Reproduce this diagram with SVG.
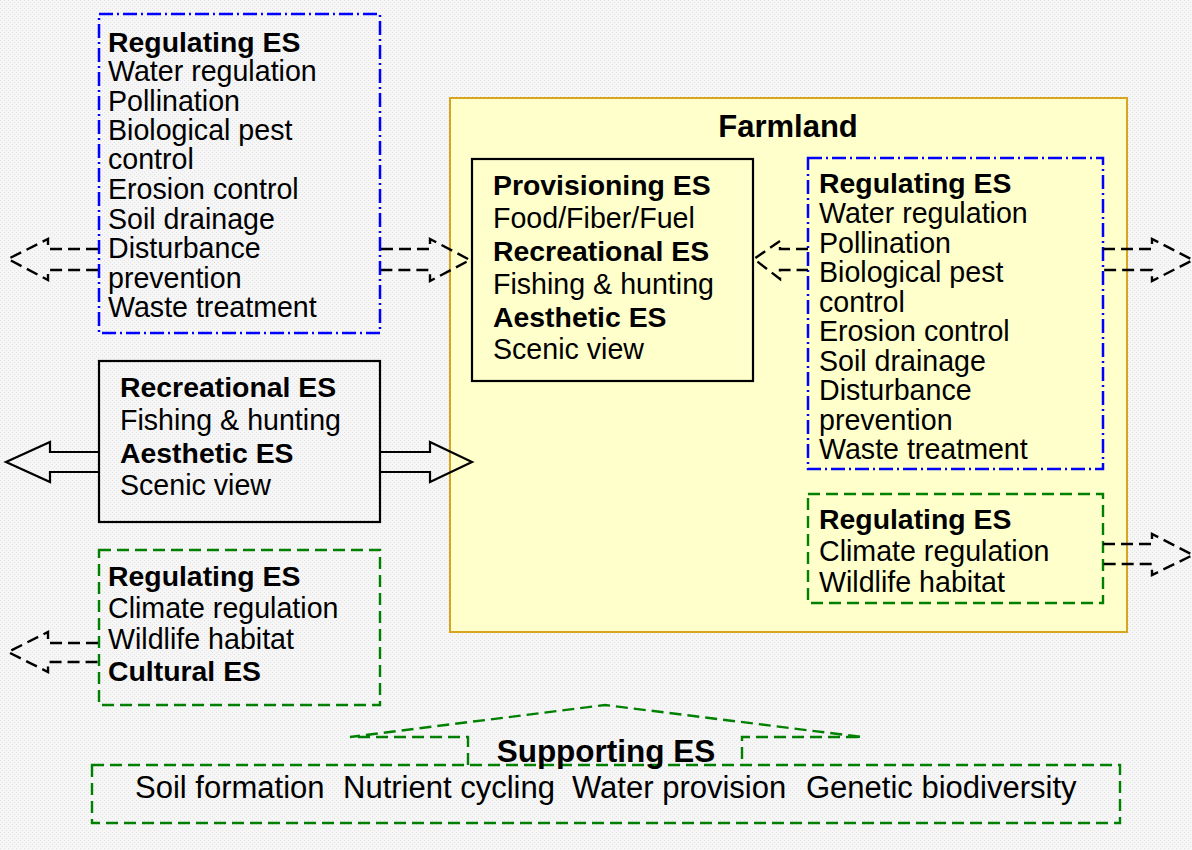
<svg xmlns="http://www.w3.org/2000/svg" width="1192" height="850" viewBox="0 0 1192 850">
<defs>
<pattern id="bgdots" width="4" height="4" patternUnits="userSpaceOnUse">
<rect width="4" height="4" fill="#f6f6f6"/>
<rect x="0" y="0" width="1" height="1" fill="#e2e2e2"/>
<rect x="2" y="2" width="1" height="1" fill="#e2e2e2"/>
</pattern>
</defs>
<style>
text{font-family:"Liberation Sans",Arial,Helvetica,sans-serif;font-size:28.6px;fill:#000}
.b{font-weight:bold;font-size:28.4px}
.big{font-size:31px}
.sup{font-size:31.5px}
.blue{fill:none;stroke:#0000ff;stroke-width:2.5;stroke-dasharray:14 4 2 4}
.green{fill:none;stroke:#008000;stroke-width:2.4;stroke-dasharray:12 6}
.solid{fill:none;stroke:#000;stroke-width:2.2}
.darr{fill:none;stroke:#000;stroke-width:2.4;stroke-dasharray:12 6}
.sarr{fill:none;stroke:#000;stroke-width:2.2}
</style>
<rect width="1192" height="850" fill="url(#bgdots)"/>

<g id="farmland">
<rect x="450" y="98" width="677" height="534" fill="#ffffcc" stroke="#d9a520" stroke-width="2"/>
<text class="b big" x="788" y="137" text-anchor="middle">Farmland</text>
</g>

<g id="provisioning">
<rect class="solid" x="472" y="159" width="281" height="222"/>
<text class="b" x="493" y="195">Provisioning ES</text>
<text x="493" y="228">Food/Fiber/Fuel</text>
<text class="b" x="493" y="261">Recreational ES</text>
<text x="493" y="294">Fishing &amp; hunting</text>
<text class="b" x="493" y="327">Aesthetic ES</text>
<text x="493" y="359">Scenic view</text>
</g>

<g id="regulating-farm-blue">
<rect class="blue" x="808" y="158" width="295" height="311"/>
<text class="b" x="819" y="193">Regulating ES</text>
<text x="819" y="223">Water regulation</text>
<text x="819" y="253">Pollination</text>
<text x="819" y="282">Biological pest</text>
<text x="819" y="312">control</text>
<text x="819" y="341">Erosion control</text>
<text x="819" y="371">Soil drainage</text>
<text x="819" y="400">Disturbance</text>
<text x="819" y="430">prevention</text>
<text x="819" y="459">Waste treatment</text>
</g>

<g id="regulating-farm-green">
<rect class="green" x="808" y="494" width="295" height="109"/>
<text class="b" x="819" y="529">Regulating ES</text>
<text x="819" y="561">Climate regulation</text>
<text x="819" y="592">Wildlife habitat</text>
</g>

<g id="regulating-left-blue">
<rect class="blue" x="99" y="14" width="281" height="319"/>
<text class="b" x="108" y="52">Regulating ES</text>
<text x="108" y="81">Water regulation</text>
<text x="108" y="111">Pollination</text>
<text x="108" y="140">Biological pest</text>
<text x="108" y="169">control</text>
<text x="108" y="199">Erosion control</text>
<text x="108" y="229">Soil drainage</text>
<text x="108" y="258">Disturbance</text>
<text x="108" y="288">prevention</text>
<text x="108" y="317">Waste treatment</text>
</g>

<g id="recreational-left">
<rect class="solid" x="99" y="361" width="281" height="161"/>
<text class="b" x="120" y="397">Recreational ES</text>
<text x="120" y="430">Fishing &amp; hunting</text>
<text class="b" x="120" y="463">Aesthetic ES</text>
<text x="120" y="495">Scenic view</text>
</g>

<g id="regulating-left-green">
<rect class="green" x="99" y="550" width="281" height="155"/>
<text class="b" x="108" y="586">Regulating ES</text>
<text x="108" y="618">Climate regulation</text>
<text x="108" y="649">Wildlife habitat</text>
<text class="b" x="108" y="681">Cultural ES</text>
</g>

<g id="supporting">
<rect class="green" x="92" y="765" width="1028" height="58"/>
<text class="b sup" x="606" y="762" text-anchor="middle">Supporting ES</text>
<text class="big" x="135" y="798">Soil formation</text>
<text class="big" x="343" y="798">Nutrient cycling</text>
<text class="big" x="572" y="798">Water provision</text>
<text class="big" x="806" y="798">Genetic biodiversity</text>
</g>

<g id="connectors">
<path class="darr" d="M98,249 L48,249 L48,239 L8,259 L48,280 L48,270 L98,270"/>
<path class="darr" d="M381,249 L430,249 L430,239 L470,260 L430,281 L430,270 L381,270"/>
<path class="darr" d="M808,249 L780,249 L780,241 L754,259 L780,279 L780,270 L808,270"/>
<path class="darr" d="M1103,249 L1152,249 L1152,239 L1193,260 L1152,281 L1152,270 L1103,270"/>
<path class="darr" d="M1103,544 L1152,544 L1152,534 L1193,555 L1152,575 L1152,564 L1103,564"/>
<path class="darr" d="M98,643 L48,643 L48,632 L8,652 L48,672 L48,662 L98,662"/>
<path class="sarr" d="M99,452 L50,452 L50,442 L6,462 L50,482 L50,472 L99,472"/>
<path class="sarr" d="M380,452 L430,452 L430,442 L472,462 L430,482 L430,472 L380,472"/>
<path class="green" d="M468,765 L468,737 L350,737 L605,705 L862,737 L742,737 L742,765"/>
</g>
</svg>
